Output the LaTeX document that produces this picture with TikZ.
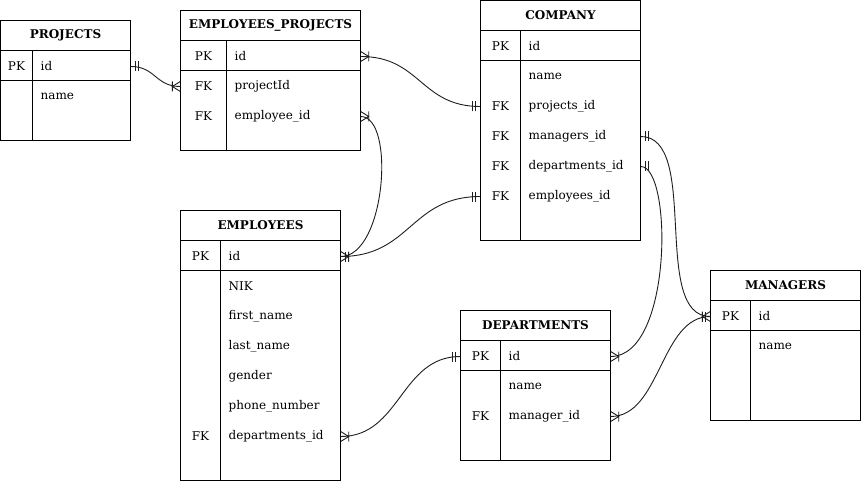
\documentclass[tikz,border=0pt]{standalone}
\usepackage{fontspec}
\setmainfont{DejaVu Serif}
\usepackage{tikz}
\definecolor{ink}{RGB}{0,0,0}
\definecolor{wire}{RGB}{30,30,30}
% crow's foot ends
\pgfdeclarearrow{
  name = ERone,
  setup code = {\pgfarrowssettipend{0pt}\pgfarrowssetlineend{0pt}\pgfarrowssetbackend{-9pt}},
  drawing code = {
    \pgfpathmoveto{\pgfqpoint{-5pt}{-5pt}}\pgfpathlineto{\pgfqpoint{-5pt}{5pt}}
    \pgfpathmoveto{\pgfqpoint{-8pt}{-5pt}}\pgfpathlineto{\pgfqpoint{-8pt}{5pt}}
    \pgfusepathqstroke}
}
\pgfdeclarearrow{
  name = ERmany,
  setup code = {\pgfarrowssettipend{0pt}\pgfarrowssetlineend{0pt}\pgfarrowssetbackend{-9pt}},
  drawing code = {
    \pgfpathmoveto{\pgfqpoint{0pt}{5pt}}\pgfpathlineto{\pgfqpoint{-8pt}{0pt}}
    \pgfpathlineto{\pgfqpoint{0pt}{-5pt}}
    \pgfpathmoveto{\pgfqpoint{-8pt}{-5pt}}\pgfpathlineto{\pgfqpoint{-8pt}{5pt}}
    \pgfusepathqstroke}
}
\newcommand{\ertable}[8]{%
  \begin{scope}[shift={(#2,#3)}]
    \draw[tblline] (0,0) rectangle (#4,#6);
    \draw[tblline] (0,30) -- (#4,30) (0,60) -- (#4,60) (#5,30) -- (#5,#6);
    \node[hdr,minimum width=#4pt] (#1) at ({#4/2},15) {#7};
    \node[keytxt] at ({#5/2},46) {PK};
    \node[fieldtxt] (#1-id) at ({#5+8},46) {id};
    \foreach \i/\k/\n/\f in {#8}{
      \node[keytxt] at ({#5/2},{76+30*\i}) {\k};
      \node[fieldtxt] (#1-\n) at ({#5+8},{76+30*\i}) {\f};
    }
  \end{scope}}

\begin{document}
\begin{tikzpicture}[x=1pt,y=-1pt,
  tblline/.style={draw=ink,line width=1pt},
  conn/.style={draw=wire,line width=0.9pt},
  hdr/.style={font=\bfseries\fontsize{12}{14}\selectfont,text=ink,minimum height=32pt,inner sep=0pt},
  keytxt/.style={font=\fontsize{12}{14}\selectfont,text=ink,inner sep=0pt},
  fieldtxt/.style={font=\fontsize{12}{14}\selectfont,text=ink,inner sep=0pt,anchor=west}]
  \fill[white] (0,0) rectangle (861,481);
  \useasboundingbox (0,0) rectangle (861,481);
  % tables
  \ertable{proj}{0.5}{20.5}{130}{32}{120}{PROJECTS}%
    {0/{}/name/name}
  \ertable{ep}{180.5}{10.5}{180}{46}{140}{EMPLOYEES\_PROJECTS}%
    {0/FK/pid/projectId,1/FK/eid/employee\_id}
  \ertable{comp}{480.5}{0.5}{160}{40}{240}{COMPANY}%
    {0/{}/name/name,1/FK/pid/projects\_id,2/FK/mid/managers\_id,3/FK/did/departments\_id,4/FK/eid/employees\_id}
  \ertable{emp}{180.5}{210.5}{160}{40}{270}{EMPLOYEES}%
    {0/{}/nik/NIK,1/{}/fn/first\_name,2/{}/ln/last\_name,3/{}/gen/gender,4/{}/ph/phone\_number,5/FK/did/departments\_id}
  \ertable{dep}{460.5}{310.5}{150}{40}{150}{DEPARTMENTS}%
    {0/{}/name/name,1/FK/mid/manager\_id}
  \ertable{mgr}{710.5}{270.5}{150}{40}{150}{MANAGERS}%
    {0/{}/name/name}
  % relations
  \draw[conn,ERone-ERmany] (proj-id -| proj.east) .. controls +(25,0) and +(-25,0) .. (ep-pid -| ep.west);
  \draw[conn,ERmany-ERone] (ep-id -| ep.east) .. controls +(60,0) and +(-60,0) .. (comp-pid -| comp.west);
  \draw[conn,ERmany-ERone] (ep-eid -| ep.east) .. controls +(35,0) and +(45,0) .. (emp-id -| emp.east);
  \draw[conn,ERmany-ERone] (emp-id -| emp.east) .. controls +(70,0) and +(-70,0) .. (comp-eid -| comp.west);
  \draw[conn,ERone-ERmany] (comp-mid -| comp.east) .. controls +(60,0) and +(-60,0) .. (mgr-id -| mgr.west);
  \draw[conn,ERone-ERmany] (comp-did -| comp.east) .. controls +(32,0) and +(62,0) .. (dep-id -| dep.east);
  \draw[conn,ERmany-ERone] (dep-mid -| dep.east) .. controls +(50,0) and +(-50,0) .. (mgr-id -| mgr.west);
  \draw[conn,ERmany-ERone] (emp-did -| emp.east) .. controls +(60,0) and +(-60,0) .. (dep-id -| dep.west);
\end{tikzpicture}
\end{document}
